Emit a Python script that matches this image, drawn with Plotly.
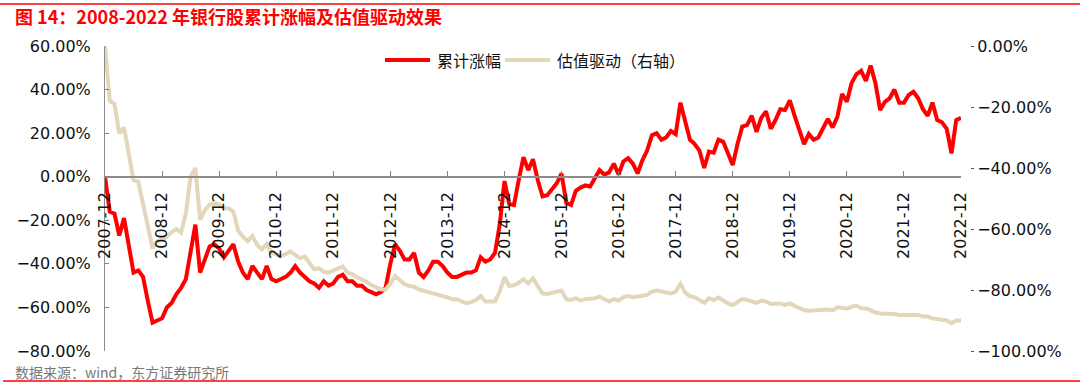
import pandas as pd
import plotly.graph_objects as go

# ---------------- data ----------------
months = list(pd.period_range("2007-12", "2022-12", freq="M").strftime("%Y-%m"))
tick_labels = ["2007-12", "2008-12", "2009-12", "2010-12", "2011-12", "2012-12", "2013-12",
               "2014-12", "2015-12", "2016-12", "2017-12", "2018-12", "2019-12", "2020-12",
               "2021-12", "2022-12"]

# 累计涨幅 (%), left axis
cum_return = (
    [0]
    + [-16, -17, -27, -19, -32, -44, -43, -46, -57, -67, -66, -65]            # 2008
    + [-60, -58, -54, -51, -47, -35, -22, -44, -38, -32, -31, -33]            # 2009
    + [-37, -34, -31, -39, -44, -47, -41, -44, -47, -41, -47, -48]            # 2010
    + [-47, -46, -44, -41, -44, -46, -48, -49, -51, -48, -50, -49]            # 2011
    + [-46, -45, -48, -48, -50, -50, -52, -53, -54, -53, -51, -40]            # 2012
    + [-31, -34, -38, -38, -35, -44, -46, -43, -39, -39, -41, -44]            # 2013
    + [-46, -46, -45, -44, -44, -43, -37, -39, -38, -35, -22, -2]             # 2014
    + [-12.5, -13, -1.5, 9, 3, 8, -1.5, -9, -8.5, -6, -3, 1.5]                # 2015
    + [-12, -13, -6.5, -5, -4, -4.5, -1, 3, 1, 2, 6, 1]                       # 2016
    + [7, 8.5, 6, 1.5, 7.5, 12, 19, 20, 17, 18, 21, 19.5]                     # 2017
    + [34, 24.5, 17, 15, 12, 4, 11.5, 11, 17, 16, 10.7, 5.4]                  # 2018
    + [15, 23, 23.7, 28, 20.6, 27, 30, 22, 26, 31, 30.6, 35]                  # 2019
    + [28, 21, 15, 19.6, 17, 18, 22.3, 26.5, 22.6, 27.5, 38, 34.4]            # 2020
    + [43, 47, 48.6, 44, 51, 43, 30.6, 34.4, 36, 40, 34, 34]                  # 2021
    + [37.5, 39, 36, 31, 28, 34, 26, 25, 22, 10.7, 26, 27]                    # 2022
)

# 估值驱动 (%), right axis
valuation = (
    [0]
    + [-18, -19, -28.6, -26.7, -35.7, -44, -44.5, -51.6, -60, -66.3, -64, -63.6]
    + [-62.5, -61, -60, -61.2, -55, -42.8, -40, -57, -53.8, -52, -51.4, -52]
    + [-53.2, -53.2, -54.3, -60.5, -62.5, -64, -62.3, -65.2, -66.7, -65, -67.8, -68.5]
    + [-68.9, -68.2, -67.4, -68.5, -69.6, -69, -71, -73.2, -72.9, -74, -74.3, -73.7]
    + [-72.9, -72.3, -74.3, -74.8, -75.8, -76.5, -77.3, -78.4, -79.1, -79.8, -79.8, -78]
    + [-75.4, -76.7, -78.1, -78.7, -78.9, -79.8, -80.2, -80.5, -80.9, -81.3, -82, -82.4]
    + [-83, -83, -83.7, -84.3, -84, -83.3, -82, -83.8, -83.8, -83.7, -80.5, -75.8]
    + [-78.7, -78.4, -77.6, -76.5, -77.8, -76.2, -78.7, -81.1, -81.3, -80.9, -80.5, -80.2]
    + [-83, -83.3, -82.7, -83.5, -83, -83, -82.7, -82.2, -83, -83.8, -83, -83.5]
    + [-82.4, -82, -82.4, -82, -81.9, -81.6, -80.5, -80.2, -80.5, -80.9, -81.1, -80.5]
    + [-78, -80.9, -82, -82.4, -83.3, -84.2, -82.7, -83.3, -82.5, -83.6, -84.4, -84.9]
    + [-84, -83, -83.3, -83.6, -84.2, -83.5, -83.8, -84.6, -84.4, -84.4, -84.9, -84.4]
    + [-85.2, -86, -86.6, -86.8, -86.8, -86.8, -86.5, -86.4, -86.6, -85.7, -86, -86.1]
    + [-85.5, -85.1, -86, -86.1, -86.6, -87.4, -87.7, -87.7, -87.7, -87.9, -88.2, -88.2]
    + [-87.9, -87.9, -88.2, -88.7, -88.7, -89.3, -89.6, -89.8, -90, -90.9, -90, -90]
)

series_names = ["累计涨幅", "估值驱动（右轴）"]
title_text = "图 14：2008-2022 年银行股累计涨幅及估值驱动效果"
source_text = "数据来源：wind，东方证券研究所"

RED = "#FF0000"
BEIGE = "#E2D6BB"
AXIS_FONT = dict(family="DejaVu Sans", size=16, color="#111111")
CJK = "Noto Sans CJK SC"

# ---------------- geometry (pixels) ----------------
W, H = 1080, 386
L, R, T, B = 105, 970, 46, 351
PW, PH = R - L, B - T


def px(x):
    return (x - L) / PW


def py(y):
    return (B - y) / PH


fig = go.Figure()
fig.add_trace(go.Scatter(x=months, y=cum_return, mode="lines", name=series_names[0],
                         line=dict(color=RED, width=4), yaxis="y", showlegend=False))
fig.add_trace(go.Scatter(x=months, y=valuation, mode="lines", name=series_names[1],
                         line=dict(color=BEIGE, width=4), yaxis="y2", showlegend=False))

x_end = (961 - L) / PW
fig.update_layout(
    width=W, height=H, autosize=False,
    margin=dict(l=L, r=W - R, t=T, b=H - B, pad=0),
    paper_bgcolor="white", plot_bgcolor="white",
    xaxis=dict(
        type="category", range=[0, len(months) - 1], domain=[0, x_end],
        anchor="free", position=80 / 140,
        tickmode="array", tickvals=tick_labels, ticktext=tick_labels,
        tickangle=-90, ticks="inside", ticklen=5, tickcolor="#808080", tickwidth=1,
        showline=True, linecolor="#8c8c8c", linewidth=2,
        showgrid=False, zeroline=False, tickfont=AXIS_FONT, ticklabelstandoff=8,
    ),
    yaxis=dict(
        range=[-80, 60], tickmode="linear", tick0=-80, dtick=20,
        tickformat=".2f", ticksuffix="%",
        ticks="inside", ticklen=4, tickcolor="#808080",
        showline=True, linecolor="#8c8c8c", linewidth=1,
        showgrid=False, zeroline=False, tickfont=AXIS_FONT, ticklabelstandoff=10,
    ),
    yaxis2=dict(
        range=[-100, 0], tickmode="linear", tick0=-100, dtick=20,
        tickformat=".2f", ticksuffix="%",
        overlaying="y", side="right", anchor="free", position=1.0,
        ticks="outside", ticklen=3, tickcolor="#555555",
        showline=False, showgrid=False, zeroline=False, tickfont=AXIS_FONT,
        ticklabelstandoff=0,
    ),
    showlegend=False,
)

# manual legend
legend_y = py(60)
for (x0, x1, xt, color, name) in [(385, 430, 435, RED, series_names[0]),
                                  (505, 550, 555, BEIGE, series_names[1])]:
    fig.add_shape(type="line", xref="paper", yref="paper", x0=px(x0), x1=px(x1),
                  y0=legend_y, y1=legend_y, line=dict(color=color, width=4))
    fig.add_annotation(xref="paper", yref="paper", x=px(xt), y=legend_y, text=name,
                       showarrow=False, xanchor="left", yanchor="middle",
                       font=dict(family=CJK, size=16, color="#111111"))

# title, source, rules
fig.add_annotation(xref="paper", yref="paper", x=px(13), y=py(16), text="<b>" + title_text + "</b>",
                   showarrow=False, xanchor="left", yanchor="middle",
                   font=dict(family=CJK, size=18, color=RED))
fig.add_annotation(xref="paper", yref="paper", x=px(13), y=py(372), text=source_text,
                   showarrow=False, xanchor="left", yanchor="middle",
                   font=dict(family=CJK, size=14, color="#777777"))
fig.add_shape(type="line", xref="paper", yref="paper", x0=px(0), x1=px(W),
              y0=py(4), y1=py(4), line=dict(color=RED, width=1.5))
fig.add_shape(type="line", xref="paper", yref="paper", x0=px(3), x1=px(W),
              y0=py(381), y1=py(381), line=dict(color=RED, width=1.5))

fig.write_html("out.html", config={"displayModeBar": False},
               post_script="document.body.style.margin='0';")
